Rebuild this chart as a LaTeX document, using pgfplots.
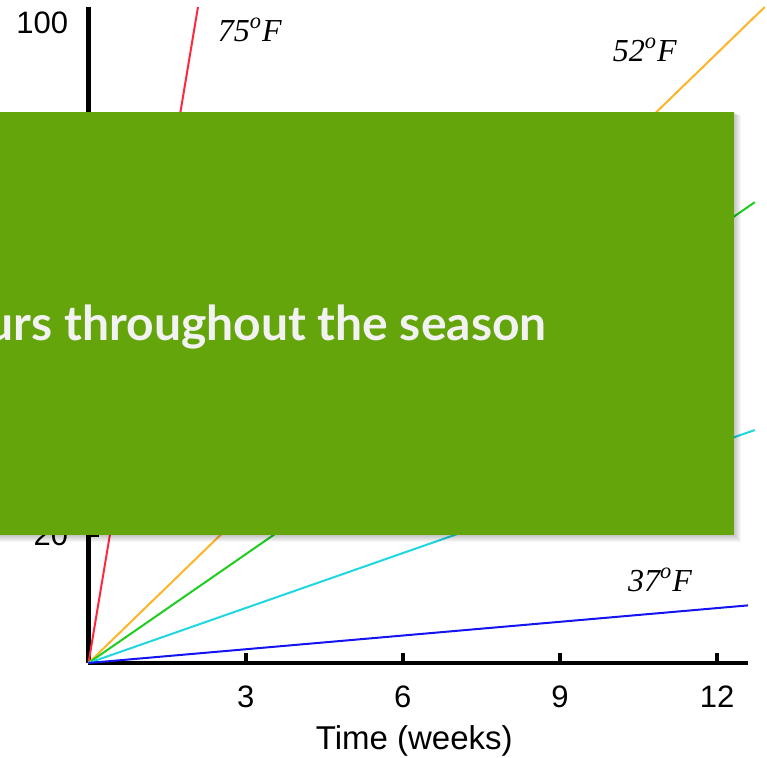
\documentclass[border=0pt]{standalone}
\usepackage{pgfplots}
\pgfplotsset{compat=1.18}
\usepackage{fontspec}
\setmainfont{Liberation Sans}
\newfontfamily\timesfont{Liberation Serif}
\newfontfamily\boxfont{Lato}

\definecolor{c75}{RGB}{255,40,60}
\definecolor{c52}{RGB}{255,180,40}
\definecolor{cgreen}{RGB}{30,205,30}
\definecolor{ccyan}{RGB}{30,215,225}
\definecolor{c37}{RGB}{20,20,240}
\definecolor{boxgreen}{RGB}{100,165,12}
\definecolor{boxtext}{RGB}{242,242,242}

\begin{document}
\begin{tikzpicture}
\clip (0pt,0pt) rectangle (383.5pt,379pt);
\begin{axis}[
  at={(44.25pt,47.5pt)}, anchor=south west,
  scale only axis, width=329.75pt, height=328pt,
  xmin=0, xmax=12.59, ymin=0, ymax=102.5,
  axis x line*=bottom, axis y line*=left,
  axis line style={line width=2.2pt, black},
  xtick={3,6,9,12}, ytick={20,40,60,80},
  extra y ticks={100}, extra y tick style={major tick length=0pt},
  tick align=inside, major tick length=5pt,
  tick style={line width=2pt, black},
  clip=false,
  /pgf/number format/assume math mode=true,
  tick label style={font=\fontsize{15.5}{18}\selectfont},
  xticklabel style={anchor=center, yshift=-17pt},
  yticklabel style={anchor=east, inner sep=0pt, xshift=-10pt},
  xlabel={Time (weeks)},
  xlabel style={font=\fontsize{16.5}{19}\selectfont, at={(axis description cs:0.5,0)}, anchor=center, yshift=-39pt, xshift=-2pt},
]
% growth at each storage temperature
\addplot[c75, line width=1pt] coordinates {(0,0) (2.09,102.5)};
\addplot[c52, line width=1pt] coordinates {(0,0) (12.91,102.5)};
\addplot[cgreen, line width=1pt] coordinates {(0,0) (12.72,72.0)};
\addplot[ccyan, line width=1pt] coordinates {(0,0) (12.72,36.4)};
\addplot[c37, line width=1pt] coordinates {(0,0) (12.59,9.0)};

\node[font=\timesfont\itshape\fontsize{16}{19}\selectfont] at (axis cs:3.08,98.9) {75\textsuperscript{o}F};
\node[font=\timesfont\itshape\fontsize{16}{19}\selectfont] at (axis cs:10.62,95.8) {52\textsuperscript{o}F};
\node[font=\timesfont\itshape\fontsize{16}{19}\selectfont] at (axis cs:10.91,12.97) {37\textsuperscript{o}F};
\end{axis}

% soft shadow under the banner
\foreach \d in {0.5,1.0,1.5,2.0,2.5,3.0,3.5}{
  \fill[black, opacity=0.035] (0pt,{111.5pt-\d pt}) rectangle ({367pt+\d pt},{323pt-0.5*\d pt});
}
\fill[boxgreen] (0pt,111.5pt) rectangle (367pt,323pt);
\node[anchor=base east, text=boxtext, inner sep=0pt,
      font=\boxfont\bfseries\fontsize{24}{28}\selectfont]
  at (273.5pt,208.5pt) {Growth occurs throughout the season};
\end{tikzpicture}
\end{document}
